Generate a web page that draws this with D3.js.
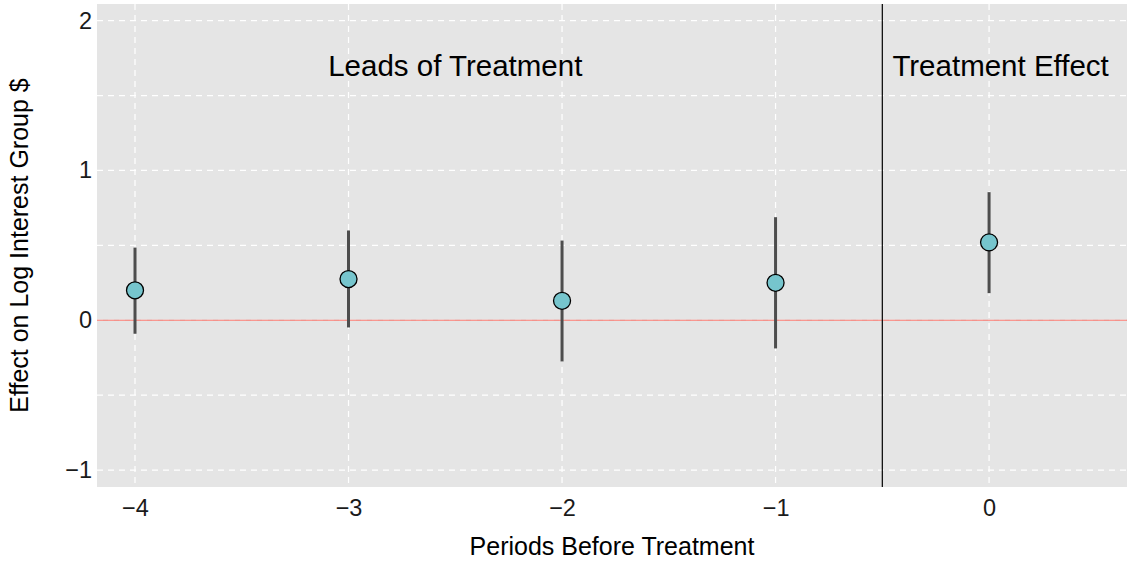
<!DOCTYPE html>
<html>
<head>
<meta charset="utf-8">
<script src="https://cdn.jsdelivr.net/npm/d3@7"></script>
<style>
  body { margin: 0; background: #fff; }
  text { font-family: "Liberation Sans", Arial, sans-serif; }
</style>
</head>
<body>
<div id="chart"></div>
<script>
// event-study estimates
var periods = [-4, -3, -2, -1, 0];
var estimates = [0.20, 0.275, 0.13, 0.25, 0.52];
var lower = [-0.09, -0.048, -0.275, -0.188, 0.181];
var upper = [0.485, 0.599, 0.532, 0.688, 0.855];
var xTicks = [-4, -3, -2, -1, 0];
var yTicks = [-1, 0, 1, 2];
var yMinor = [-0.5, 0.5, 1.5];

var width = 1127, height = 565;
var margin = {top: 4, right: 0, bottom: 78, left: 97};
var w = width - margin.left - margin.right;
var h = height - margin.top - margin.bottom;

var svg = d3.select("#chart").append("svg")
  .attr("width", width)
  .attr("height", height);

var g = svg.append("g")
  .attr("transform", "translate(" + margin.left + "," + margin.top + ")");

var x = d3.scaleLinear().domain([-4.178, 0.646]).range([0, w]);
var y = d3.scaleLinear().domain([-1.113, 2.111]).range([h, 0]);

var minus = function(d) { return d < 0 ? "\u2212" + Math.abs(d) : d; };

// panel
g.append("rect")
  .attr("width", w)
  .attr("height", h)
  .attr("fill", "#e5e5e5");

// grid lines
g.selectAll(".minor").data(yMinor).enter().append("line")
  .attr("x1", 0).attr("x2", w)
  .attr("y1", function(d) { return y(d); })
  .attr("y2", function(d) { return y(d); })
  .attr("stroke", "#fff").attr("stroke-width", 1.2)
  .attr("stroke-dasharray", "6,5");

g.selectAll(".hgrid").data(yTicks).enter().append("line")
  .attr("x1", 0).attr("x2", w)
  .attr("y1", function(d) { return y(d); })
  .attr("y2", function(d) { return y(d); })
  .attr("stroke", "#fff").attr("stroke-width", 1.2)
  .attr("stroke-dasharray", "6,5");

g.selectAll(".vgrid").data(xTicks).enter().append("line")
  .attr("y1", 0).attr("y2", h)
  .attr("x1", function(d) { return x(d); })
  .attr("x2", function(d) { return x(d); })
  .attr("stroke", "#fff").attr("stroke-width", 1.2)
  .attr("stroke-dasharray", "6,5");

// zero line
g.append("line")
  .attr("x1", 0).attr("x2", w)
  .attr("y1", y(0)).attr("y2", y(0))
  .attr("stroke", "#f8766d").attr("stroke-width", 1.2);

// treatment divider
g.append("line")
  .attr("x1", x(-0.5)).attr("x2", x(-0.5))
  .attr("y1", 0).attr("y2", h)
  .attr("stroke", "#000").attr("stroke-width", 1.2);

// error bars
g.selectAll(".bar").data(periods).enter().append("line")
  .attr("x1", function(d) { return x(d); })
  .attr("x2", function(d) { return x(d); })
  .attr("y1", function(d, i) { return y(lower[i]); })
  .attr("y2", function(d, i) { return y(upper[i]); })
  .attr("stroke", "#4d4d4d").attr("stroke-width", 3);

// points
g.selectAll(".pt").data(periods).enter().append("circle")
  .attr("cx", function(d) { return x(d); })
  .attr("cy", function(d, i) { return y(estimates[i]); })
  .attr("r", 8.5)
  .attr("fill", "#76c5cd")
  .attr("stroke", "#000").attr("stroke-width", 1.3);

// annotations
g.append("text")
  .attr("x", x(-2.5)).attr("y", 72)
  .attr("text-anchor", "middle")
  .attr("font-size", 29.5)
  .text("Leads of Treatment");

g.append("text")
  .attr("x", x(0.054)).attr("y", 72)
  .attr("text-anchor", "middle")
  .attr("font-size", 29.5)
  .text("Treatment Effect");

// axes (labels only, no ticks)
var xAxis = g.append("g")
  .attr("transform", "translate(0," + h + ")")
  .call(d3.axisBottom(x).tickValues(xTicks).tickSize(0).tickPadding(12)
    .tickFormat(minus));
xAxis.select(".domain").remove();
xAxis.selectAll("text").attr("font-size", 23.5).attr("fill", "#1a1a1a")
  .style("font-family", "Liberation Sans, Arial, sans-serif");

var yAxis = g.append("g")
  .call(d3.axisLeft(y).tickValues(yTicks).tickSize(0).tickPadding(5)
    .tickFormat(minus));
yAxis.select(".domain").remove();
yAxis.selectAll("text").attr("font-size", 23.5).attr("fill", "#1a1a1a")
  .style("font-family", "Liberation Sans, Arial, sans-serif");

// axis titles
svg.append("text")
  .attr("x", margin.left + w / 2).attr("y", 555)
  .attr("text-anchor", "middle")
  .attr("font-size", 25)
  .text("Periods Before Treatment");

svg.append("text")
  .attr("transform", "translate(28," + (margin.top + h / 2) + ") rotate(-90)")
  .attr("text-anchor", "middle")
  .attr("font-size", 25)
  .text("Effect on Log Interest Group $");
</script>
</body>
</html>
